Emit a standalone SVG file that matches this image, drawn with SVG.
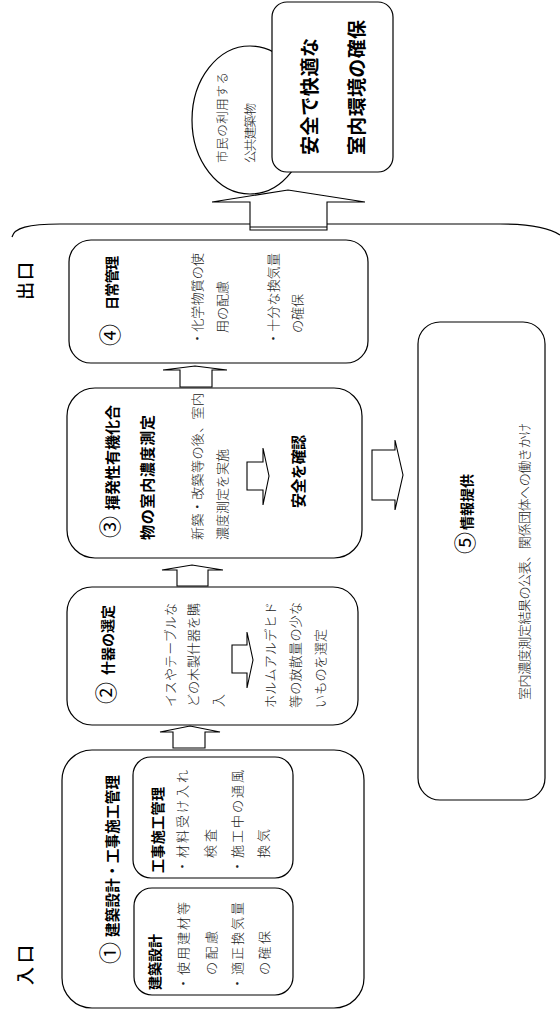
<svg xmlns="http://www.w3.org/2000/svg" width="560" height="1018" viewBox="0 0 560 1018">
<style>
.box{fill:#fff;stroke:#000;stroke-width:1.2}
.arr{fill:#fff;stroke:#000;stroke-width:1.1;stroke-linejoin:miter}
.ln{fill:none;stroke:#000;stroke-width:1.2}
text{font-family:"Noto Sans CJK JP","Noto Sans",sans-serif}
.h{font-size:14px;font-weight:700;fill:#000}
.h15{font-size:15px;font-weight:700;fill:#000}
.t{font-size:13px;font-weight:300;fill:#222}
.c{font-size:22px;font-weight:400;fill:#000;text-anchor:middle}
.big{font-size:19px;font-weight:700;fill:#000}
.io{font-size:18px;font-weight:500;fill:#000}
.e{font-size:12.5px;font-weight:300;fill:#222}
</style>
<rect width="560" height="1018" fill="#fff"/>

<g id="labels">
<text class="io" x="31.8" y="985" transform="rotate(-90 31.8 985)" textLength="40">入口</text>
<text class="io" x="31.8" y="300" transform="rotate(-90 31.8 300)" textLength="38">出口</text>
</g>

<g id="connectors">
<path class="ln" d="M12,237 C14,228 28,224 60,224 L500,224 C530,224 550,228 560,235"/>
<path class="arr" d="M173,748 V732 H160 L190,726 L220,732 H205 V748 Z"/>
<path class="arr" d="M177,586 V570 H162 L192,565 L223,570 H208 V586 Z"/>
<path class="arr" d="M180,387 V370 H163 L195,366 L227,370 H212 V387 Z"/>
<path class="arr" d="M372,450 H395 V440 L403,475 L395,510 V500 H372 Z"/>
<path class="arr" d="M250,230 V202 H212 L288,190 L365,202 H327 V230 Z"/>
<line class="ln" x1="250" y1="227" x2="327" y2="227"/>
</g>

<g id="node1">
<rect class="box" x="62" y="750" width="302" height="258" rx="30"/>
<text class="c" x="118.4" y="953" transform="rotate(-90 118.4 953)">①</text>
<text class="h" x="117.5" y="937" transform="rotate(-90 117.5 937)" style="font-size:14.5px" textLength="162">建築設計・工事施工管理</text>
<rect class="box" x="133" y="757" width="160" height="121" rx="18"/>
<text class="h" x="163.3" y="873" transform="rotate(-90 163.3 873)" textLength="86">工事施工管理</text>
<text class="t" x="187" y="873" transform="rotate(-90 187 873)" textLength="103">・材料受け入れ</text>
<text class="t" x="215" y="858" transform="rotate(-90 215 858)" textLength="29">検査</text>
<text class="t" x="242" y="873" transform="rotate(-90 242 873)" textLength="103">・施工中の通風</text>
<text class="t" x="268" y="858" transform="rotate(-90 268 858)" textLength="29">換気</text>
<rect class="box" x="134" y="888" width="159" height="107" rx="18"/>
<text class="h" x="160.3" y="990" transform="rotate(-90 160.3 990)" textLength="56">建築設計</text>
<text class="t" x="188" y="990" transform="rotate(-90 188 990)" textLength="88">・使用建材等</text>
<text class="t" x="216" y="975" transform="rotate(-90 216 975)" textLength="44">の配慮</text>
<text class="t" x="242" y="990" transform="rotate(-90 242 990)" textLength="88">・適正換気量</text>
<text class="t" x="269" y="975" transform="rotate(-90 269 975)" textLength="44">の確保</text>
</g>

<g id="node2">
<rect class="box" x="67" y="587" width="291" height="138" rx="25"/>
<text class="c" x="114.4" y="693" transform="rotate(-90 114.4 693)">②</text>
<text class="h" x="113.3" y="675" transform="rotate(-90 113.3 675)" textLength="70">什器の選定</text>
<text class="t" x="175" y="707" transform="rotate(-90 175 707)" textLength="104">イスやテーブルな</text>
<text class="t" x="198" y="707" transform="rotate(-90 198 707)" textLength="104">どの木製什器を購</text>
<text class="t" x="223" y="707" transform="rotate(-90 223 707)">入</text>
<path class="arr" d="M232,645 H247 V632 L253,660 L247,688 V673 H232 Z"/>
<text class="t" x="275" y="708" transform="rotate(-90 275 708)" textLength="106">ホルムアルデヒド</text>
<text class="t" x="300" y="708" transform="rotate(-90 300 708)" textLength="106">等の放散量の少な</text>
<text class="t" x="325" y="708" transform="rotate(-90 325 708)" textLength="79">いものを選定</text>
</g>

<g id="node3">
<rect class="box" x="67" y="388" width="295" height="170" rx="28"/>
<text class="c" x="118.4" y="527" transform="rotate(-90 118.4 527)">③</text>
<text class="h15" x="117.7" y="510" transform="rotate(-90 117.7 510)" textLength="105">揮発性有機化合</text>
<text class="h15" x="152.7" y="540" transform="rotate(-90 152.7 540)" textLength="125">物の室内濃度測定</text>
<text class="t" x="202" y="540" transform="rotate(-90 202 540)" textLength="147">新築・改築等の後、室内</text>
<text class="t" x="227" y="540" transform="rotate(-90 227 540)" textLength="91">濃度測定を実施</text>
<path class="arr" d="M247,462 H263 V448 L269,476 L263,505 V490 H247 Z"/>
<text class="h15" x="303.7" y="508" transform="rotate(-90 303.7 508)" textLength="73">安全を確認</text>
</g>

<g id="node4">
<rect class="box" x="69" y="240" width="299" height="123" rx="22"/>
<text class="c" x="118.4" y="335" transform="rotate(-90 118.4 335)">④</text>
<text class="h" x="117.3" y="310" transform="rotate(-90 117.3 310)" textLength="54">日常管理</text>
<text class="t" x="202" y="345" transform="rotate(-90 202 345)" textLength="92">・化学物質の使</text>
<text class="t" x="227" y="333" transform="rotate(-90 227 333)" textLength="52">用の配慮</text>
<text class="t" x="278" y="345" transform="rotate(-90 278 345)" textLength="92">・十分な換気量</text>
<text class="t" x="302" y="333" transform="rotate(-90 302 333)" textLength="39">の確保</text>
</g>

<g id="node5">
<rect class="box" x="418" y="322" width="127" height="478" rx="22"/>
<text class="c" x="473.4" y="543" transform="rotate(-90 473.4 543)">⑤</text>
<text class="h" x="472.3" y="530" transform="rotate(-90 472.3 530)" textLength="56">情報提供</text>
<text class="t" x="529" y="700" transform="rotate(-90 529 700)" textLength="277">室内濃度測定結果の公表、関係団体への働きかけ</text>
</g>

<g id="building">
<ellipse class="box" cx="250" cy="120" rx="58" ry="74"/>
<text class="e" x="226.75" y="163" transform="rotate(-90 226.75 163)" textLength="91">市民の利用する</text>
<text class="e" x="254.75" y="163" transform="rotate(-90 254.75 163)" textLength="60">公共建築物</text>
</g>

<g id="goal">
<rect class="box" x="272" y="2" width="121" height="170" rx="15"/>
<text class="big" x="317.2" y="155" transform="rotate(-90 317.2 155)" textLength="117">安全で快適な</text>
<text class="big" x="364.2" y="155" transform="rotate(-90 364.2 155)" textLength="135">室内環境の確保</text>
</g>
</svg>
